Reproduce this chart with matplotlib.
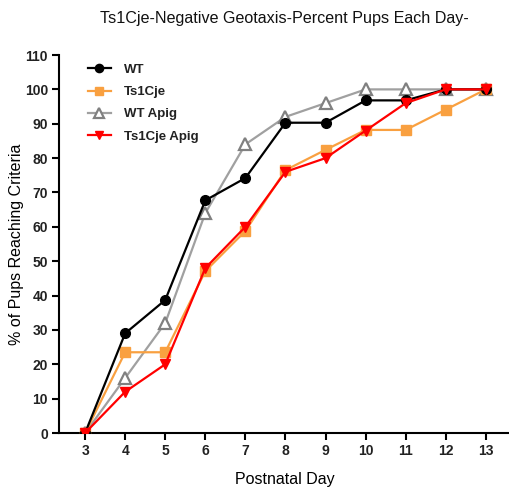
import matplotlib
matplotlib.use("Agg")
import matplotlib.pyplot as plt

days = [3, 4, 5, 6, 7, 8, 9, 10, 11, 12, 13]
wt = [0, 29.0, 38.7, 67.7, 74.2, 90.3, 90.3, 96.8, 96.8, 100, 100]
ts1cje = [0, 23.5, 23.5, 47.1, 58.8, 76.5, 82.4, 88.2, 88.2, 94.1, 100]
wt_apig = [0, 16, 32, 64, 84, 92, 96, 100, 100, 100, 100]
ts1cje_apig = [0, 12, 20, 48, 60, 76, 80, 88, 96, 100, 100]
y_ticks = list(range(0, 111, 10))

plt.rcParams["font.family"] = ["Liberation Sans", "DejaVu Sans"]

fig = plt.figure(figsize=(5.09, 4.9), dpi=100)
ax = fig.add_axes([0.116, 0.1163, 0.8857, 0.7714])

h_wta, = ax.plot(days, wt_apig, color="#a0a0a0", lw=1.6, marker="^", ms=8,
                 mfc="white", mec="#808080", mew=1.6, label="WT Apig", zorder=3)
h_ts, = ax.plot(days, ts1cje, color="#f9a040", lw=1.6, marker="s", ms=6.5,
                mfc="#f9a040", mec="#f9a040", label="Ts1Cje", zorder=4)
h_wt, = ax.plot(days, wt, color="black", lw=1.6, marker="o", ms=7,
                label="WT", zorder=5)
h_tsa, = ax.plot(days, ts1cje_apig, color="#ff0000", lw=1.6, marker="v", ms=7.5,
                 label="Ts1Cje Apig", zorder=6)

ax.set_xlim(2.35, 13.6)
ax.set_ylim(0, 110)
ax.set_xticks(days)
ax.set_yticks(y_ticks)
for s in ["top", "right"]:
    ax.spines[s].set_visible(False)
for s in ["left", "bottom"]:
    ax.spines[s].set_linewidth(1.5)
ax.tick_params(axis="both", direction="out", length=5, width=1.5,
               labelsize=10, pad=3)
for lbl in ax.get_xticklabels() + ax.get_yticklabels():
    lbl.set_fontweight("bold")
    lbl.set_color("#222222")

ax.set_xlabel("Postnatal Day", fontsize=11.5, labelpad=10)
ax.set_ylabel("% of Pups Reaching Criteria", fontsize=11.5)
ax.yaxis.set_label_coords(-0.078, 0.5)
fig.text(0.559, 0.963, "Ts1Cje-Negative Geotaxis-Percent Pups Each Day-",
         ha="center", va="center", fontsize=11.6, color="#111111")

leg = ax.legend(handles=[h_wt, h_ts, h_wta, h_tsa], loc="upper left",
                bbox_to_anchor=(0.037, 1.008), frameon=False,
                prop={"weight": "bold", "size": 9.5}, labelspacing=0.75,
                handlelength=1.75, handletextpad=1.0, markerscale=0.85)
for t in leg.get_texts():
    t.set_color("#222222")

fig.savefig("out.png", dpi=100)
